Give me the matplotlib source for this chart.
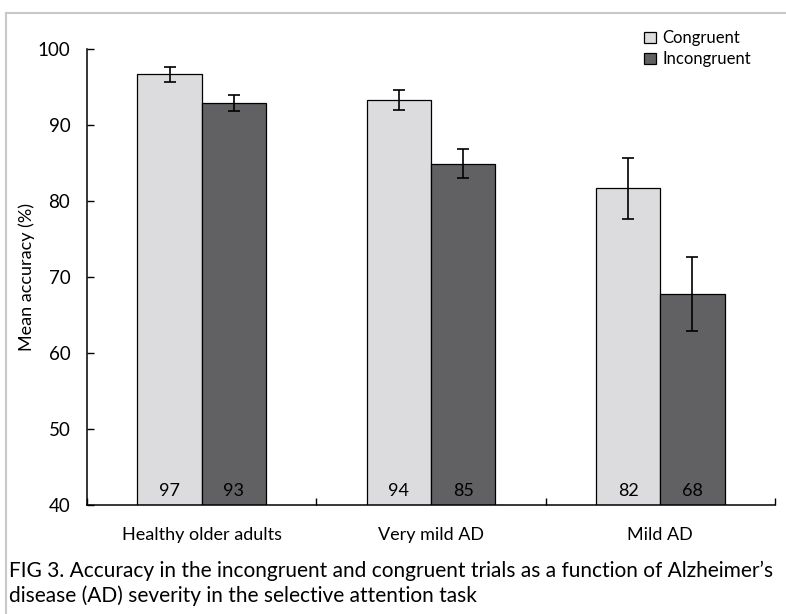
import matplotlib.pyplot as plt
import numpy as np

plt.rcParams['font.family'] = ['Lato', 'DejaVu Sans']

groups = ["Healthy older adults", "Very mild AD", "Mild AD"]
congruent = [96.7, 93.3, 81.7]
incongruent = [92.9, 84.9, 67.8]
cong_err = [1.0, 1.3, 4.0]
incong_err = [1.1, 1.9, 4.9]
cong_lab = ["97", "94", "82"]
incong_lab = ["93", "85", "68"]
caption = ("FIG 3. Accuracy in the incongruent and congruent trials as a function of Alzheimer\u2019s\n"
           "disease (AD) severity in the selective attention task")

light = "#dcdcde"
dark = "#616163"

fig = plt.figure(figsize=(7.86, 6.14), dpi=100)
ax = fig.add_axes([0.1107, 0.1775, 0.8753, 0.7425])

x = np.arange(len(groups))
w = 0.28
ekw = dict(ecolor="black", elinewidth=1.2, capsize=4, capthick=1.2)
ax.bar(x - w / 2, congruent, w, color=light, edgecolor="black", linewidth=0.9,
       yerr=cong_err, error_kw=ekw, label="Congruent")
ax.bar(x + w / 2, incongruent, w, color=dark, edgecolor="black", linewidth=0.9,
       yerr=incong_err, error_kw=ekw, label="Incongruent")

for i in range(len(groups)):
    ax.text(x[i] - w / 2, 41.9, cong_lab[i], ha="center", va="center", fontsize=13)
    ax.text(x[i] + w / 2, 41.9, incong_lab[i], ha="center", va="center", fontsize=13)

ax.set_ylim(40, 100)
ax.set_xlim(-0.5, 2.5)
ax.set_yticks(range(40, 101, 10))
ax.set_xticks([-0.5, 0.5, 1.5, 2.5])
ax.set_xticklabels([])
ax.set_xticks(x, minor=True)
ax.set_xticklabels(groups, minor=True)
ax.tick_params(axis="x", which="minor", length=0, labelsize=13, pad=16)
ax.tick_params(axis="both", which="major", direction="in", length=5, width=1, labelsize=13.5)
ax.tick_params(axis="y", pad=12)
for s in ["top", "right"]:
    ax.spines[s].set_visible(False)
for s in ["left", "bottom"]:
    ax.spines[s].set_linewidth(1.1)
ax.set_ylabel("Mean accuracy (%)", fontsize=13, labelpad=2)

fig.legend(loc="upper right", bbox_to_anchor=(0.975, 0.975), frameon=False, fontsize=12,
           handlelength=0.7, handleheight=0.7, handletextpad=0.4, labelspacing=0.3)

fig.text(0.012, 0.05, caption, fontsize=15, ha="left", va="center", linespacing=1.3)

# thin border around figure (top and left)
fig.add_artist(plt.Line2D([0.007, 1.0], [0.979, 0.979], color="#c8c8c8", lw=1.5, transform=fig.transFigure))
fig.add_artist(plt.Line2D([0.007, 0.007], [0.0, 0.979], color="#c8c8c8", lw=1.5, transform=fig.transFigure))

fig.savefig("out.png", dpi=100)
